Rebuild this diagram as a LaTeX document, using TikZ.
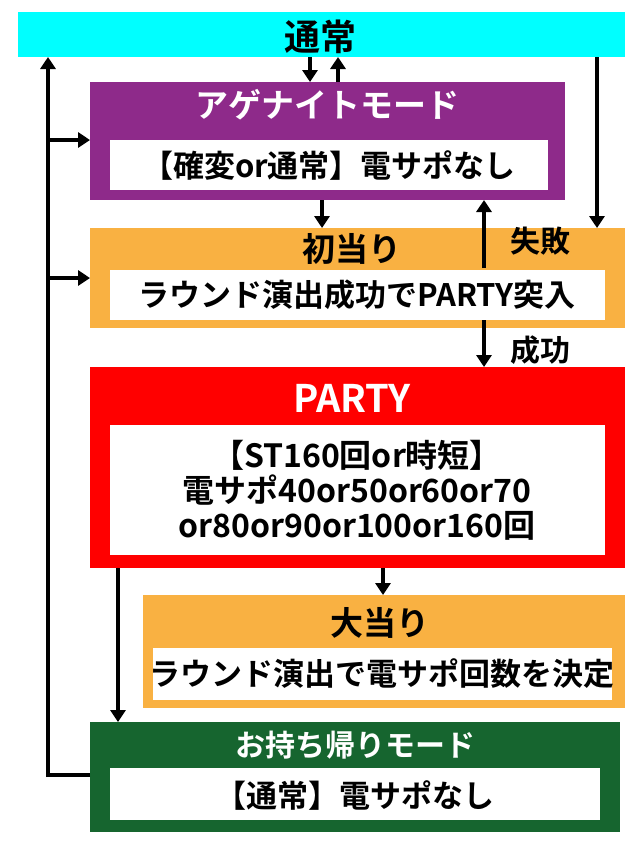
\documentclass[tikz,border=0pt]{standalone}
\usepackage{fontspec}
\setmainfont{Noto Sans CJK JP Bold}
\usetikzlibrary{arrows.meta}
\definecolor{cy}{HTML}{00FFFF}
\definecolor{pu}{HTML}{8E2A8A}
\definecolor{og}{HTML}{F9B142}
\definecolor{rd}{HTML}{FF0000}
\definecolor{gr}{HTML}{16652F}
\begin{document}
\begin{tikzpicture}[x=1pt,y=-1pt,
  ar/.style={line width=4pt,-{Triangle[length=12pt,width=15pt]}},
  ln/.style={line width=4pt},
  tt/.style={font=\fontsize{33}{36}\selectfont,inner sep=0},
  tx/.style={font=\fontsize{31}{34}\selectfont,inner sep=0,align=center}]
\useasboundingbox (0,0) rectangle (640,844);
\fill[cy] (18,12) rectangle (625,57);
\node[tt,font=\fontsize{36}{38}\selectfont] (t0) at (320,37) {通常};
% purple
\fill[pu] (90,82) rectangle (565,200);
\fill[white] (110,140) rectangle (548,190);
\node[tt,white] (t1) at (327,105) {アゲナイトモード};
\node[tx] (x1) at (329,165) {【確変or通常】電サポなし};
% orange 1
\fill[og] (90,228) rectangle (625,328);
\fill[white] (110,270) rectangle (605,320);
\node[tt] (t2) at (352,249) {初当り};
\node[tx] (x2) at (357,295) {ラウンド演出成功でPARTY突入};
% red
\fill[rd] (90,367) rectangle (625,568);
\fill[white] (110,425) rectangle (605,555);
\node[tt,white,font=\fontsize{38}{40}\selectfont] (t3) at (352,398) {PARTY};
\node[tx,font=\fontsize{32}{35}\selectfont] (x3) at (357,490) {【ST160回or時短】\\電サポ40or50or60or70\\or80or90or100or160回};
% orange 2
\fill[og] (143,595) rectangle (625,708);
\fill[white] (153,648) rectangle (612,700);
\node[tt] (t4) at (380,623) {大当り};
\node[tx] (x4) at (382,674) {ラウンド演出で電サポ回数を決定};
% green
\fill[gr] (90,722) rectangle (620,832);
\fill[white] (110,768) rectangle (600,820);
\node[tt,white,font=\fontsize{30}{33}\selectfont] (t5) at (355,745) {お持ち帰りモード};
\node[tx] (x5) at (355,795) {【通常】電サポなし};
% arrows
\draw[ar] (310,57) -- (310,82);
\draw[ar] (338,82) -- (338,57);
\draw[ar] (597,57) -- (597,228);
\draw[ln] (90,775) -- (48,775);
\draw[ar] (48,777) -- (48,57);
\draw[ar] (46,140) -- (90,140);
\draw[ar] (46,278) -- (90,278);
\draw[ar] (322,200) -- (322,228);
\draw[ar] (484,268) -- (484,200);
\draw[ar] (484,320) -- (484,367);
\node[tt,font=\fontsize{30}{33}\selectfont] (f1) at (540,241) {失敗};
\node[tt,font=\fontsize{30}{33}\selectfont] (s1) at (540,350) {成功};
\draw[ar] (383,568) -- (383,595);
\draw[ar] (118,568) -- (118,722);
\end{tikzpicture}
\end{document}
